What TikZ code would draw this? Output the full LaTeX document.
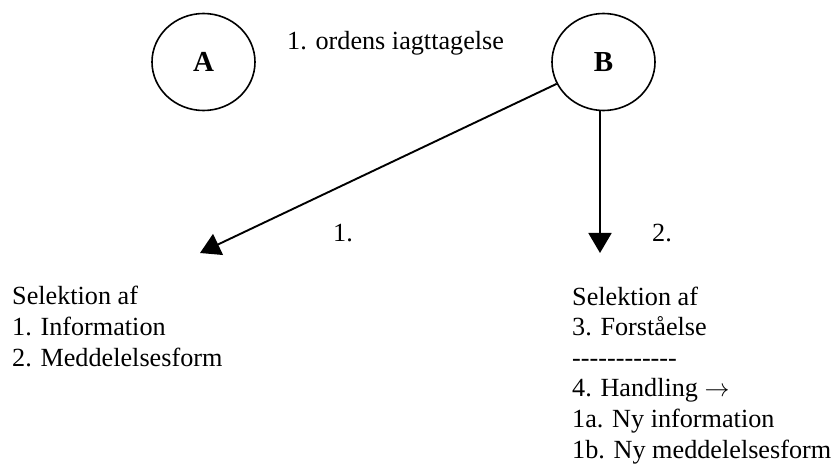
\documentclass[tikz,border=0pt]{standalone}
\usepackage{fontspec}
\setmainfont{Liberation Serif}[Ligatures=TeXOff]
\usepackage{tikz}
\usetikzlibrary{shapes.geometric,arrows.meta}

\begin{document}
\begin{tikzpicture}
[x=1pt,y=-1pt,
obs/.style={ellipse,draw=black,line width=1.6pt,minimum width=103pt,minimum height=97pt,inner sep=0pt,font=\fontsize{29}{34}\selectfont\bfseries},
txt/.style={inner sep=0pt,align=left,font=\fontsize{26.2}{30.6}\selectfont},
arr/.style={-{Triangle[width=23pt,length=20pt]},line width=1.9pt},
]
\useasboundingbox (0,0) rectangle (839,468);

\node [obs] (A) at (203.5,62){A};
\node [obs] (B) at (603.5,62){B};
\node [txt,anchor=base west] (C) at (287,50){1. ordens iagttagelse};
\coordinate (T1) at (200,253);
\coordinate (T2) at (600,253);
\node [txt,anchor=base west] (L1) at (333,242){1.};
\node [txt,anchor=base west] (L2) at (652,242){2.};
\node [txt,anchor=base west] (D) at (12,366){Selektion af\\1. Information\\2. Meddelelsesform};
\node [txt,anchor=base west] (E) at (572,458){Selektion af\\3. Forståelse\\------------\\4. Handling $\rightarrow$\\1a. Ny information\\1b. Ny meddelelsesform};
\draw[arr] (B.205) -- (T1);
\draw[arr] (T2 |- B.south) -- (T2);
\end{tikzpicture}
\end{document}
